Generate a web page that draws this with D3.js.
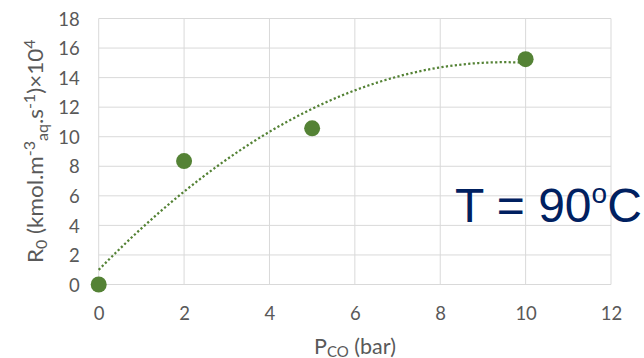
<!DOCTYPE html>
<html>
<head>
<meta charset="utf-8">
<script src="https://cdn.jsdelivr.net/npm/d3@7"></script>
<style>
  html, body { margin: 0; padding: 0; background: #fff; }
  svg { display: block; }
</style>
</head>
<body>
<svg id="chart" width="644" height="358"></svg>
<script>
// Data
const pressures = [0, 2, 5, 10];          // P_CO (bar)
const rates = [0, 8.35, 10.57, 15.25];    // R0 x 10^4
const xTicks = [0, 2, 4, 6, 8, 10, 12];
const yTicks = [0, 2, 4, 6, 8, 10, 12, 14, 16, 18];

const svg = d3.select("#chart");
const x = d3.scaleLinear().domain([0, 12]).range([98.7, 611]);
const y = d3.scaleLinear().domain([0, 18]).range([284.5, 18.5]);

const grid = "#d9d9d9";
const txt = "#595959";
const green = "#548235";
const font = "Lato, 'Open Sans', sans-serif";

// gridlines
svg.append("g").selectAll("line").data(yTicks).join("line")
  .attr("x1", x(0)).attr("x2", x(12))
  .attr("y1", d => y(d)).attr("y2", d => y(d))
  .attr("stroke", grid).attr("stroke-width", 1);
svg.append("g").selectAll("line").data(xTicks).join("line")
  .attr("x1", d => x(d)).attr("x2", d => x(d))
  .attr("y1", y(0)).attr("y2", y(18))
  .attr("stroke", grid).attr("stroke-width", 1);

// axes (labels only)
const yAxis = d3.axisLeft(y).tickValues(yTicks).tickSize(0).tickPadding(0);
const gy = svg.append("g").attr("transform", `translate(${x(0) - 19},0)`).call(yAxis);
gy.select(".domain").remove();
gy.selectAll("text").attr("font-family", font).attr("font-size", 18.5).attr("fill", txt).attr("dy", "0.36em");

const xAxis = d3.axisBottom(x).tickValues(xTicks).tickSize(0).tickPadding(0);
const gx = svg.append("g").attr("transform", `translate(0,319.5)`).call(xAxis);
gx.select(".domain").remove();
gx.selectAll("text").attr("font-family", font).attr("font-size", 18.5).attr("fill", txt).attr("dy", "0");

// polynomial (order 2) least-squares trendline computed from the data
function polyFit2(xs, ys) {
  let S = [0,0,0,0,0], T = [0,0,0];
  xs.forEach((xi, i) => {
    for (let k = 0; k < 5; k++) S[k] += Math.pow(xi, k);
    for (let k = 0; k < 3; k++) T[k] += Math.pow(xi, k) * ys[i];
  });
  const A = [[S[0],S[1],S[2],T[0]],[S[1],S[2],S[3],T[1]],[S[2],S[3],S[4],T[2]]];
  for (let i = 0; i < 3; i++) {
    for (let j = i + 1; j < 3; j++) {
      const f = A[j][i] / A[i][i];
      for (let k = i; k < 4; k++) A[j][k] -= f * A[i][k];
    }
  }
  const c = [0,0,0];
  for (let i = 2; i >= 0; i--) {
    let s = A[i][3];
    for (let k = i + 1; k < 3; k++) s -= A[i][k] * c[k];
    c[i] = s / A[i][i];
  }
  return c;
}
const coef = polyFit2(pressures, rates);
const trend = d3.range(0, 10.0001, 0.1).map(p => [p, coef[0] + coef[1]*p + coef[2]*p*p]);
svg.append("path")
  .datum(trend)
  .attr("d", d3.line().x(d => x(d[0])).y(d => y(d[1])))
  .attr("fill", "none").attr("stroke", green)
  .attr("stroke-width", 2.25).attr("stroke-dasharray", "2.2,2.3");

// points
svg.append("g").selectAll("circle").data(pressures.map((p, i) => [p, rates[i]])).join("circle")
  .attr("cx", d => x(d[0])).attr("cy", d => y(d[1])).attr("r", 8)
  .attr("fill", green);

// x title
const xt = svg.append("text").attr("x", 355).attr("y", 354).attr("text-anchor", "middle")
  .attr("font-family", font).attr("font-size", 21.5).attr("fill", txt);
xt.append("tspan").text("P");
xt.append("tspan").attr("font-size", 15).attr("dy", 3).text("CO");
xt.append("tspan").attr("dy", -3).text(" (bar)");

// y title
const yt = svg.append("text")
  .attr("font-family", font).attr("font-size", 21).attr("fill", txt);
yt.append("tspan").text("R");
yt.append("tspan").attr("font-size", 15).attr("dy", 4).text("0");
yt.append("tspan").attr("dy", -4).text(" (kmol.m");
yt.append("tspan").attr("font-size", 15).attr("dy", -8).text("-3");
yt.append("tspan").attr("font-size", 15).attr("dy", 13).text("aq");
yt.append("tspan").attr("dy", -5).text(".s");
yt.append("tspan").attr("font-size", 15).attr("dy", -8).text("-1");
yt.append("tspan").attr("dy", 8).text(")×10");
yt.append("tspan").attr("font-size", 15).attr("dy", -8).text("4");
const bb = yt.node().getBBox();
const targetLen = 224;
const k = targetLen / bb.width;
// baseline at x=43, text runs from y=263 up to y=39
yt.attr("transform", `translate(43,263) rotate(-90) scale(${k},1) translate(${-bb.x},0)`);

// annotation
const ann = svg.append("text").attr("x", 455).attr("y", 222)
  .attr("font-family", "'Liberation Sans', Arial, sans-serif").attr("font-size", 48).attr("fill", "#002060");
ann.append("tspan").text("T = 90");
ann.append("tspan").attr("font-size", 28).attr("dy", -19).text("o");
ann.append("tspan").attr("dy", 19).text("C");
</script>
</body>
</html>
